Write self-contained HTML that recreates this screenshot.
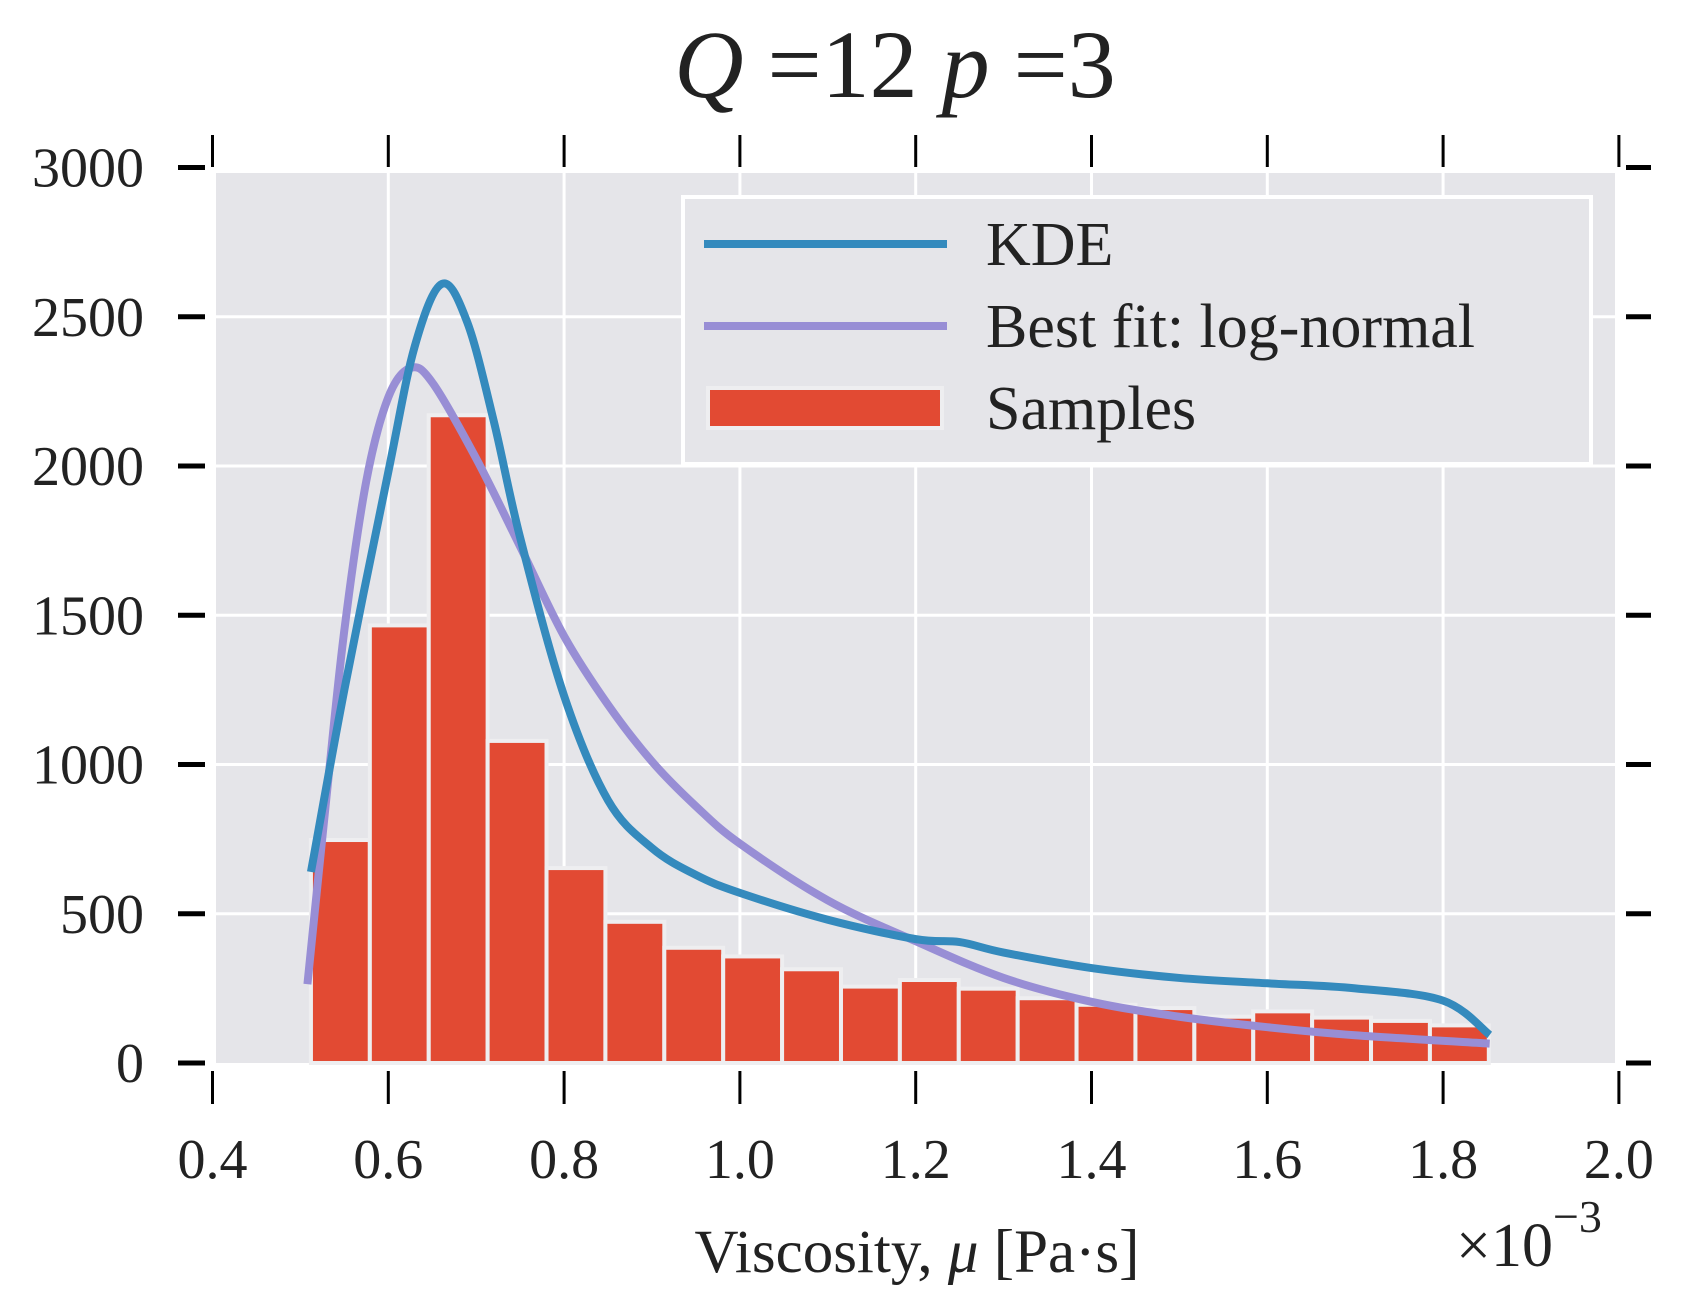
<!DOCTYPE html>
<html><head><meta charset="utf-8"><style>
html,body{margin:0;padding:0;background:#fff;}
svg{display:block;font-family:"Liberation Serif",serif;}
</style></head><body>
<svg id="chart" width="1683" height="1307" viewBox="0 0 1683 1307" xmlns="http://www.w3.org/2000/svg">
<rect x="216" y="173" width="1399" height="890" fill="#e5e5e9"/>
<g id="grid"></g>
<g id="bars"></g>
<path id="lognorm" fill="none" stroke="#988ed5" stroke-width="8" stroke-linejoin="round"/>
<path id="kde" fill="none" stroke="#348abd" stroke-width="8" stroke-linejoin="round"/>
<g id="ticks"></g>
<text x="895" y="97" font-size="96" text-anchor="middle" fill="#222"><tspan font-style="italic">Q</tspan> =12 <tspan font-style="italic">p</tspan> =3</text>
<text x="917" y="1272" font-size="61" text-anchor="middle" fill="#222">Viscosity, <tspan font-style="italic">μ</tspan> [Pa·s]</text>
<text x="1456" y="1266" font-size="62" fill="#222">×10<tspan dy="-34" font-size="46">−3</tspan></text>
<g>
<rect x="683" y="197" width="908" height="267" fill="#e5e5e9" stroke="#fff" stroke-width="4"/>
<line x1="704" y1="244" x2="947" y2="244" stroke="#348abd" stroke-width="8"/>
<text x="986" y="265" font-size="62" fill="#222">KDE</text>
<line x1="704" y1="326" x2="947" y2="326" stroke="#988ed5" stroke-width="8"/>
<text x="986" y="347" font-size="62" fill="#222">Best fit: log-normal</text>
<rect x="708" y="388" width="234" height="40" fill="#e24a33" stroke="#eeeef0" stroke-width="4"/>
<text x="986" y="429" font-size="62" fill="#222">Samples</text>
</g>
</svg>
<script>
const xTicks = [0.4,0.6,0.8,1.0,1.2,1.4,1.6,1.8,2.0];
const xTickLabels = ["0.4","0.6","0.8","1.0","1.2","1.4","1.6","1.8","2.0"];
const yTicks = [0,500,1000,1500,2000,2500,3000];
const yTickLabels = ["0","500","1000","1500","2000","2500","3000"];
const binStart = 0.512;
const binEnd = 1.852;
const counts = [747,1466,2170,1079,653,473,386,357,314,256,278,249,217,195,184,155,173,152,141,126];
const kdeX = [0.512,0.55,0.6,0.63,0.661,0.69,0.72,0.75,0.8,0.85,0.9,0.95,1.0,1.1,1.2,1.25,1.3,1.4,1.5,1.6,1.7,1.8,1.853];
const kdeY = [640,1250,1980,2400,2610,2480,2150,1760,1230,880,720,630,570,480,415,405,370,318,285,267,250,209,94];
const lnX = [0.508,0.53,0.55,0.575,0.6,0.625,0.65,0.7,0.75,0.8,0.85,0.9,0.95,1.0,1.1,1.2,1.3,1.4,1.5,1.6,1.7,1.853];
const lnY = [264,900,1450,1950,2230,2328,2280,2025,1730,1430,1200,1010,860,735,545,408,285,205,155,120,93,65];

const NS="http://www.w3.org/2000/svg";
const X=v=>212.5+(v-0.4)*879;
const Y=v=>1063-v*0.2985;
function mk(t,a,p){const e=document.createElementNS(NS,t);for(const k in a)e.setAttribute(k,a[k]);p.appendChild(e);return e;}
const grid=document.getElementById('grid'),ticks=document.getElementById('ticks'),svg=document.getElementById('chart');
xTicks.forEach((v,i)=>{
  const x=X(v);
  if(x>218&&x<1613){const g=mk('line',{x1:x,x2:x,y1:173,y2:1063,stroke:'#fff','stroke-width':3},grid);
  
  }
  const t1=mk('line',{x1:x,x2:x,y1:135,y2:167,stroke:'#000','stroke-width':3},ticks);
  
  
  const t2=mk('line',{x1:x,x2:x,y1:1071,y2:1104,stroke:'#000','stroke-width':3},ticks);
  
  
  const l=mk('text',{x:x,y:1178,'font-size':56,'text-anchor':'middle',fill:'#222'},svg);
  l.textContent=xTickLabels[i];
  
  
});
yTicks.forEach((v,i)=>{
  const y=Y(v);
  if(y>175&&y<1061){const g=mk('line',{x1:216,x2:1615,y1:y,y2:y,stroke:'#fff','stroke-width':3},grid);
  
  }
  const t1=mk('line',{x1:178,x2:205,y1:y,y2:y,stroke:'#000','stroke-width':5},ticks);
  
  
  const t2=mk('line',{x1:1626,x2:1651,y1:y,y2:y,stroke:'#000','stroke-width':5},ticks);
  
  
  const l=mk('text',{x:144,y:y+19,'font-size':56,'text-anchor':'end',fill:'#222'},svg);
  l.textContent=yTickLabels[i];
  
  
});
const bars=document.getElementById('bars');
const bw=(binEnd-binStart)/counts.length;
counts.forEach((c,i)=>{
  const x0=X(binStart+i*bw),x1=X(binStart+(i+1)*bw);
  const r=mk('rect',{x:x0,y:Y(c),width:x1-x0,height:Y(0)-Y(c),fill:'#e24a33',stroke:'#eeeef0','stroke-width':4},bars);
  
  
});
function smooth(xs,ys){
  const p=xs.map((v,i)=>[X(v),Y(ys[i])]);
  let d='M'+p[0][0]+','+p[0][1];
  for(let i=0;i<p.length-1;i++){
    const p0=p[i-1]||p[i],p1=p[i],p2=p[i+1],p3=p[i+2]||p2;
    const c1=[p1[0]+(p2[0]-p0[0])/6,p1[1]+(p2[1]-p0[1])/6];
    const c2=[p2[0]-(p3[0]-p1[0])/6,p2[1]-(p3[1]-p1[1])/6];
    d+=' C'+c1+' '+c2+' '+p2;
  }
  return d;
}
document.getElementById('kde').setAttribute('d',smooth(kdeX,kdeY));
document.getElementById('lognorm').setAttribute('d',smooth(lnX,lnY));
</script>
</body></html>
